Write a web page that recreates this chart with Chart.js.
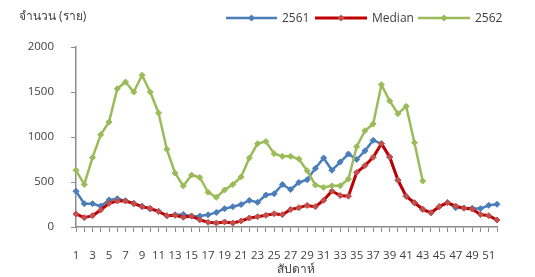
<!DOCTYPE html>
<html>
<head>
<meta charset="utf-8">
<script src="https://cdn.jsdelivr.net/npm/chart.js@4/dist/chart.umd.min.js"></script>
<style>
  html, body { margin: 0; padding: 0; background: #fff; }
  #wrap { width: 535px; height: 277px; position: relative; }
</style>
</head>
<body>
<div id="wrap"><canvas id="c"></canvas></div>
<script>
// ---------------------------------------------------------------------------
// DATA
// ---------------------------------------------------------------------------

const WEEKS = Array.from({ length: 52 }, (_, i) => String(i + 1))

const Y_TICKS = [0, 500, 1000, 1500, 2000]

const SERIES_NAMES = ['2561', 'Median', '2562']

const CASES_2561 = [
    397, 259, 259, 232, 300, 315, 293, 263, 232, 200,
    175, 125, 137, 140, 120, 122, 135, 162, 204, 226,
    250, 296, 274, 355, 370, 472, 417, 495, 526, 652,
    767, 630, 722, 811, 750, 846, 963, 926, 778, 519,
    341, 269, 197, 158, 226, 271, 215, 211, 208, 204,
    241, 252,
]

const CASES_MEDIAN = [
    145, 104, 126, 190, 263, 289, 289, 259, 226, 207,
    172, 125, 130, 108, 122, 80, 52, 44, 56, 44,
    67, 100, 115, 130, 148, 137, 195, 215, 240, 226,
    297, 400, 350, 343, 605, 682, 775, 926, 778, 522,
    341, 269, 197, 158, 226, 271, 232, 208, 200, 139,
    126, 78,
]

// 2562 only runs to week 43
const CASES_2562 = [
    630, 473, 771, 1026, 1167, 1537, 1611, 1500, 1686, 1500,
    1267, 863, 600, 456, 578, 550, 386, 330, 412, 472,
    556, 767, 926, 950, 815, 785, 785, 755, 626, 466,
    440, 458, 458, 532, 892, 1070, 1145, 1581, 1400, 1259,
    1341, 937, 511,
]

// ---------------------------------------------------------------------------
// STYLE
// ---------------------------------------------------------------------------

const FONT = '"Open Sans", "Noto Sans", sans-serif'
const TEXT_COLOR = '#404040'
const AXIS_COLOR = '#8c8c8c'

const LINE_COLORS = ['#4a7ebb', '#c00000', '#9bbb59']
const POINT_COLORS = ['#4a7ebb', '#c0504d', '#9bbb59']
const LINE_WIDTHS = [2.5, 3, 2.5]

// plot box in canvas pixels
const PLOT = { left: 76, top: 47, right: 497, bottom: 227 }

// ---------------------------------------------------------------------------
// CHART
// ---------------------------------------------------------------------------

function makeDataset(idx, data) {
    return {
        label: SERIES_NAMES[idx],
        data: data,
        borderColor: LINE_COLORS[idx],
        backgroundColor: POINT_COLORS[idx],
        pointBackgroundColor: POINT_COLORS[idx],
        pointBorderColor: POINT_COLORS[idx],
        borderWidth: LINE_WIDTHS[idx],
        pointStyle: 'rectRot',
        pointRadius: 3,
        pointBorderWidth: 1,
        tension: 0,
        borderJoinStyle: 'round',
        fill: false,
        // later series sits on top
        order: 2 - idx,
    }
}

const textPlugin = {
    id: 'extraText',
    afterDraw(chart) {
        const ctx = chart.ctx
        ctx.save()
        ctx.fillStyle = TEXT_COLOR
        ctx.font = '12px ' + FONT
        ctx.textBaseline = 'middle'

        // y title
        ctx.textAlign = 'left'
        ctx.fillText('จำนวน (ราย)', 19, 17)

        // x title
        ctx.textAlign = 'center'
        ctx.fillText('สัปดาห์', 296, 270)

        // legend
        const entries = [
            { x0: 226, x1: 277, tx: 282 },
            { x0: 315, x1: 367, tx: 372 },
            { x0: 418, x1: 470, tx: 475 },
        ]
        const ly = 18
        entries.forEach((e, i) => {
            ctx.strokeStyle = LINE_COLORS[i]
            ctx.lineWidth = LINE_WIDTHS[i]
            ctx.beginPath()
            ctx.moveTo(e.x0, ly)
            ctx.lineTo(e.x1, ly)
            ctx.stroke()
            const mx = (e.x0 + e.x1) / 2
            ctx.fillStyle = POINT_COLORS[i]
            ctx.beginPath()
            ctx.moveTo(mx, ly - 3.5)
            ctx.lineTo(mx + 3.5, ly)
            ctx.lineTo(mx, ly + 3.5)
            ctx.lineTo(mx - 3.5, ly)
            ctx.closePath()
            ctx.fill()
            ctx.fillStyle = TEXT_COLOR
            ctx.textAlign = 'left'
            ctx.fillText(SERIES_NAMES[i], e.tx, ly + 1)
        })
        ctx.restore()
    },
}

new Chart(document.getElementById('c'), {
    type: 'line',
    data: {
        labels: WEEKS,
        datasets: [
            makeDataset(0, CASES_2561),
            makeDataset(1, CASES_MEDIAN),
            makeDataset(2, CASES_2562),
        ],
    },
    options: {
        responsive: true,
        maintainAspectRatio: false,
        animation: false,
        layout: {
            padding: { left: 0, top: PLOT.top, right: 535 - PLOT.right, bottom: 0 },
        },
        plugins: {
            legend: { display: false },
            tooltip: { enabled: false },
        },
        scales: {
            x: {
                type: 'category',
                offset: false,
                border: { color: AXIS_COLOR, width: 1.5 },
                grid: {
                    display: true,
                    drawOnChartArea: false,
                    drawTicks: true,
                    tickLength: 5,
                    color: AXIS_COLOR,
                    lineWidth: 1,
                },
                ticks: {
                    autoSkip: false,
                    maxRotation: 0,
                    minRotation: 0,
                    padding: 17,
                    color: TEXT_COLOR,
                    font: { family: FONT, size: 11.5 },
                    callback: (v, i) => (i % 2 === 0 ? WEEKS[i] : ''),
                },
                afterFit(scale) { scale.height = 277 - PLOT.bottom },
            },
            y: {
                min: 0,
                max: 2000,
                border: { color: AXIS_COLOR, width: 1.5 },
                grid: {
                    display: true,
                    drawOnChartArea: false,
                    drawTicks: true,
                    tickLength: 5,
                    color: AXIS_COLOR,
                },
                afterBuildTicks(scale) {
                    scale.ticks = Y_TICKS.map(v => ({ value: v }))
                },
                ticks: {
                    padding: 17,
                    color: TEXT_COLOR,
                    font: { family: FONT, size: 11.5 },
                    callback: v => String(v),
                },
                afterFit(scale) { scale.width = PLOT.left },
            },
        },
    },
    plugins: [textPlugin],
})
</script>
</body>
</html>
